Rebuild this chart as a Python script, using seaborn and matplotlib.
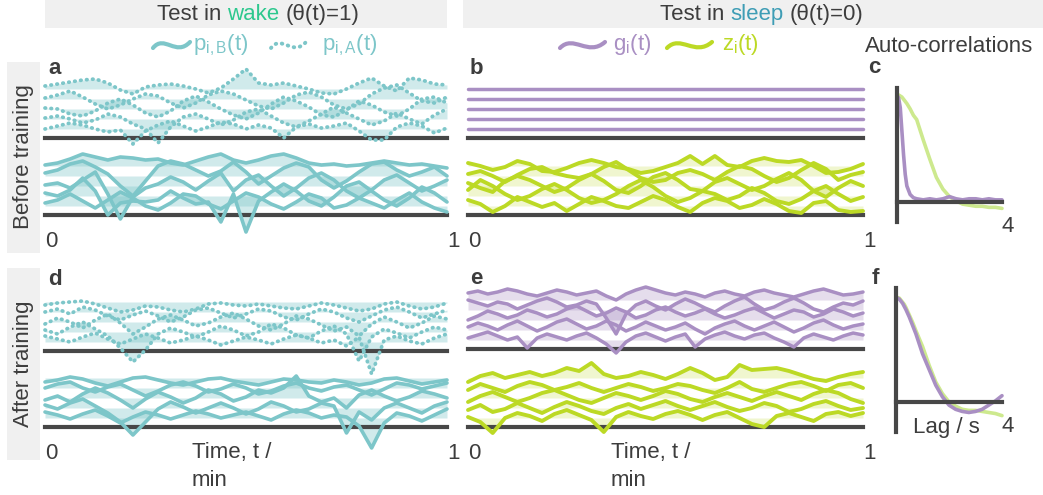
import numpy as np
import matplotlib
matplotlib.use("Agg")
import matplotlib.pyplot as plt
import seaborn as sns
from matplotlib.patches import Rectangle, PathPatch
from matplotlib.path import Path

sns.set_theme(style="white")
plt.rcParams["font.family"] = ["Liberation Sans", "DejaVu Sans"]
plt.rcParams["mathtext.fontset"] = "custom"
plt.rcParams["mathtext.rm"] = "Liberation Sans"
plt.rcParams["mathtext.it"] = "Liberation Sans"
plt.rcParams["mathtext.default"] = "regular"

# ---------------- data (offset trace levels, lowest baseline = 0) ----------------
pA_before = [
    [0.0,0.3,0.6,0.4,0.0,-0.3,-0.1,-1.5,-0.2,0.4,0.8,0.3,-0.2,0.2,0.7,0.5,0.0,0.4,0.1,-0.9,0.2,0.5,0.1,0.3,0.6,-0.2,-1.1,-1.1,0.2,0.6,0.3,-0.4,0.1],
    [1.1,1.3,1.0,0.6,0.9,1.5,1.2,0.5,0.0,-1.4,0.2,1.2,1.5,1.0,0.4,0.9,1.7,2.0,1.3,0.6,0.2,0.8,1.5,2.2,1.6,1.0,0.4,0.8,1.6,1.0,0.5,1.4,2.0],
    [2.1,2.0,1.5,1.3,1.8,2.6,3.0,2.4,1.6,1.2,1.8,2.8,3.3,2.7,2.0,1.4,1.0,1.6,2.5,3.2,2.8,2.2,1.4,1.2,1.9,2.8,2.4,1.7,1.3,2.0,3.0,3.2,2.6],
    [3.1,3.4,3.8,3.2,2.5,2.0,2.4,3.0,3.5,3.3,2.6,2.1,2.6,3.4,3.8,3.5,2.9,2.3,2.0,2.6,3.4,3.7,3.2,2.4,2.0,2.5,3.5,4.1,4.4,3.6,2.8,2.6,3.2],
    [4.3,4.5,4.7,4.9,5.0,4.6,3.9,3.5,4.2,4.4,4.5,4.3,4.0,3.6,4.1,5.0,6.0,4.6,4.4,4.6,4.3,4.0,3.6,3.5,4.0,4.6,5.1,4.3,3.8,5.1,4.9,4.5,4.4],
]
pB_before = [
    [0.3,0.6,1.2,0.5,-0.2,0.6,1.4,0.8,0.0,-0.4,0.3,1.2,1.0,0.2,-0.3,0.5,1.3,0.9,0.2,-0.3,0.4,1.2,0.8,-0.2,0.1,0.8,0.3,-0.2,0.6,1.3,0.4,-0.2,-0.6],
    [1.3,1.0,1.6,2.8,1.5,-0.9,0.3,0.5,0.4,0.6,1.5,0.8,0.2,0.4,-1.6,1.2,-2.6,0.5,1.4,2.2,1.5,0.5,0.0,0.9,2.0,2.4,1.5,0.6,0.0,0.8,1.9,1.3,0.4],
    [2.1,2.3,1.8,2.6,3.4,1.2,-1.3,0.9,1.8,2.2,2.9,2.4,1.6,2.5,3.3,1.5,2.6,3.1,2.0,1.0,1.8,2.8,3.3,2.6,1.5,0.8,1.6,2.6,3.1,2.3,1.5,2.0,2.6],
    [3.3,3.6,4.2,4.5,3.9,3.2,2.0,1.0,2.5,4.0,4.5,4.2,3.6,3.0,3.5,4.4,3.4,2.2,3.0,3.8,4.3,3.9,2.6,1.8,2.5,3.4,4.2,4.4,3.6,3.0,3.4,3.9,3.0],
    [4.1,4.3,4.7,5.2,4.9,4.6,4.9,4.8,4.6,4.7,4.3,4.1,4.5,4.9,5.2,4.6,4.3,4.6,5.0,5.2,4.8,4.3,4.1,4.2,4.0,4.1,4.3,4.5,4.3,4.1,4.2,4.0,3.8],
]
g_before = [[0.0,0.0],[1.0,1.0],[2.0,2.0],[3.0,3.0],[4.0,4.0]]
z_before = [
    [0.6,0.2,-0.6,0.0,0.9,0.4,-0.1,0.3,-0.5,0.2,0.9,0.5,0.0,-0.2,0.4,1.0,0.6,-0.1,-0.6,0.3,0.8,0.5,-0.2,0.1,0.7,0.2,-0.5,-0.7,0.3,0.5,-0.4,-0.6,-0.5],
    [1.6,2.6,2.0,1.2,0.6,1.0,1.7,2.2,1.6,0.8,0.3,0.6,1.2,2.0,2.6,1.9,1.0,0.4,0.8,1.5,1.2,0.6,1.0,1.8,1.3,0.5,0.2,0.7,1.5,2.0,1.2,0.5,0.9],
    [2.3,1.8,1.4,2.5,3.0,2.6,2.0,1.4,1.8,2.6,3.2,2.5,1.6,1.3,2.0,2.9,3.3,2.6,1.7,1.5,2.4,2.8,2.2,1.6,2.0,2.7,3.3,2.6,1.5,0.9,1.8,2.5,2.0],
    [3.2,3.5,3.0,2.4,3.1,3.7,3.9,3.3,3.0,2.8,3.2,3.9,4.4,3.6,2.8,2.4,2.6,3.3,3.6,3.2,2.6,3.4,4.0,3.7,3.0,2.4,2.8,3.6,4.3,3.7,2.6,3.1,3.4],
    [4.3,4.0,3.6,3.9,4.5,4.2,3.5,3.4,3.8,4.3,4.6,4.3,3.9,3.7,3.3,3.5,3.9,4.3,5.0,4.2,5.0,4.1,3.9,4.5,4.8,4.5,4.4,4.6,4.0,3.3,3.4,3.7,4.2],
]
pA_after = [
    [0.6,0.3,0.0,0.5,0.9,0.3,-0.2,0.3,0.8,0.4,-0.1,0.2,0.6,0.2,-0.3,0.1,0.5,0.2,-0.2,0.3,0.7,0.4,-0.1,0.2,-0.4,0.5,-3.2,0.2,0.6,0.1,-0.2,0.4,0.8],
    [1.2,0.8,1.5,2.0,1.3,0.6,-0.6,-2.0,-0.8,0.8,1.4,1.0,0.5,1.0,1.6,1.2,0.6,1.0,1.8,1.4,0.7,0.4,1.1,1.6,0.8,-1.9,0.5,1.3,0.9,0.4,1.0,1.5,1.2],
    [1.8,2.4,2.0,1.4,2.2,2.8,1.9,0.8,1.5,2.3,2.7,2.2,1.6,1.9,2.5,2.9,2.3,1.6,1.2,1.8,2.6,2.3,1.7,1.1,1.5,0.6,1.8,2.5,2.0,1.4,1.9,2.6,2.3],
    [3.0,3.3,2.8,3.5,3.2,2.6,2.2,2.7,3.1,2.6,2.0,2.5,3.2,3.4,2.9,2.4,2.8,3.3,3.1,2.5,2.2,2.8,3.3,3.0,2.4,2.0,2.6,3.2,3.5,3.0,2.4,2.8,3.2],
    [3.7,3.9,4.0,4.1,3.8,3.4,3.0,3.2,3.6,3.5,3.2,3.0,3.3,3.8,3.9,3.7,3.6,3.8,3.6,3.4,3.3,3.6,3.9,3.7,3.4,3.1,3.3,3.8,4.0,3.6,3.3,3.5,3.9],
]
pB_after = [
    [0.6,0.3,-0.1,0.4,0.8,0.2,-0.5,0.1,0.6,0.3,-0.1,0.3,0.7,0.4,0.0,0.3,0.6,0.2,-0.2,0.4,0.8,0.5,0.0,0.3,0.1,-0.8,-3.0,-0.5,0.5,0.2,-0.3,0.3,0.9],
    [1.3,0.9,1.5,1.9,1.2,0.5,-0.4,-1.7,-0.4,0.9,1.6,1.1,0.5,1.0,1.5,1.0,0.4,0.9,1.6,1.2,0.6,0.9,1.5,1.2,-1.5,0.6,-0.2,1.0,1.5,1.0,0.5,1.2,1.6],
    [1.8,2.2,1.6,2.4,3.0,2.5,1.8,1.0,1.9,2.6,2.1,1.5,2.0,2.8,2.4,1.7,2.1,2.8,2.5,3.0,4.2,2.2,1.6,2.0,1.0,2.3,2.8,2.2,1.7,2.1,2.7,2.4,2.0],
    [3.0,3.4,3.6,3.0,2.6,3.1,3.4,2.8,2.2,2.7,3.3,3.6,3.2,2.6,2.9,3.4,3.0,2.4,2.7,3.2,3.5,3.0,2.7,3.1,3.3,2.8,2.3,2.9,3.5,3.3,2.9,3.2,3.5],
    [3.6,3.8,4.1,3.9,3.5,3.2,3.6,4.0,4.1,3.8,3.5,3.3,3.6,3.9,4.0,3.7,3.5,3.3,3.6,3.9,3.8,3.6,3.5,3.8,3.6,3.3,3.5,3.9,4.0,3.7,3.4,3.6,3.8],
]
g_after = [
    [0.2,0.5,0.8,0.4,0.0,0.3,-0.8,0.2,0.6,0.3,0.0,0.4,0.7,0.2,-0.4,-1.3,-0.2,0.4,0.7,0.3,-0.1,0.3,0.6,-0.7,0.1,0.5,0.8,0.4,0.1,0.5,0.7,0.2,-0.2,-0.7,0.2,0.6,0.3,0.0,0.4,0.7,0.5],
    [1.3,1.7,1.4,1.0,1.5,1.9,1.4,0.9,1.3,1.8,2.1,1.6,1.1,1.4,1.9,1.5,0.9,1.3,1.8,1.4,1.0,1.3,1.7,1.1,0.6,1.2,1.6,1.9,1.4,1.0,1.4,1.8,1.3,0.8,1.2,1.7,2.0,1.5,1.1,1.4,1.6],
    [2.0,2.4,2.9,2.6,2.2,2.5,3.0,2.7,2.3,2.6,3.1,3.4,2.9,2.4,2.7,3.2,2.8,2.2,2.5,3.0,3.3,2.8,2.4,2.7,3.1,2.6,2.2,2.5,2.9,3.2,2.7,2.2,2.6,3.0,2.8,2.3,2.6,3.1,2.8,2.4,2.7],
    [4.0,3.7,3.4,3.8,3.6,3.1,3.5,3.9,4.2,3.8,3.3,3.5,3.9,3.6,2.2,0.6,2.6,3.5,3.9,3.4,3.0,3.6,4.1,3.7,3.2,2.8,3.4,3.9,4.3,3.6,3.0,3.3,3.8,4.2,3.7,3.1,2.8,3.3,3.7,3.5,3.9],
    [4.7,4.9,4.6,4.8,5.1,4.9,4.6,4.4,4.7,5.0,4.8,4.5,4.7,4.9,4.4,4.0,4.6,5.0,5.3,5.0,4.7,4.5,4.8,4.6,4.3,4.7,4.9,4.6,4.4,4.8,5.0,4.7,4.5,4.3,4.6,4.9,5.1,4.8,4.5,4.6,4.8],
]
z_after = [
    [0.1,-0.4,-1.5,0.0,0.5,0.2,-0.3,0.4,0.8,0.3,-0.2,-1.4,0.1,0.6,0.2,-0.1,0.4,0.7,0.3,-0.2,0.3,0.6,0.0,-0.6,-0.9,0.2,0.5,0.1,-0.3,0.4,0.6,0.2,0.5],
    [0.8,1.3,0.6,0.9,1.5,1.0,0.5,1.1,1.6,1.2,0.7,0.4,1.0,1.4,0.9,1.3,1.7,1.2,0.8,1.2,1.6,1.1,0.7,1.0,1.5,1.2,0.6,0.9,1.4,1.7,1.2,0.8,1.0],
    [1.6,2.2,2.6,2.1,1.6,2.0,2.5,2.8,2.3,1.8,1.5,2.0,2.5,2.2,1.8,2.2,2.7,2.4,1.9,1.6,2.1,2.5,2.1,1.7,2.2,2.6,2.2,1.8,2.4,2.8,2.5,1.9,1.5],
    [2.8,3.4,3.0,2.6,3.2,3.6,3.3,2.8,3.1,3.5,3.0,2.6,3.0,3.4,3.1,2.7,3.0,3.4,3.2,2.8,2.5,3.0,3.6,2.9,2.6,3.0,3.4,3.6,3.2,2.7,3.3,3.5,3.0],
    [3.6,4.2,4.5,4.0,4.3,4.6,4.2,4.5,5.0,4.7,5.5,4.4,4.0,4.2,4.6,4.3,3.9,4.4,5.0,4.5,3.8,4.1,5.3,4.8,4.9,5.0,4.7,4.3,3.9,3.7,4.1,4.4,4.6],
]

lag_s = [0,0.0625,0.125,0.1875,0.25,0.3125,0.375,0.5,0.625,0.75,1.0,1.25,1.5,1.75,2.0,2.25,2.5,2.75,3.0,3.25,3.5,3.75,4.0]
acf_g_before = [1.0,0.97,0.88,0.66,0.44,0.26,0.15,0.07,0.04,0.03,0.02,0.03,0.02,0.03,0.05,0.03,0.02,0.03,0.03,0.02,0.03,0.02,0.02]
acf_z_before = [1.0,1.0,0.99,0.98,0.96,0.94,0.92,0.87,0.81,0.77,0.58,0.40,0.23,0.12,0.05,0.01,-0.02,-0.03,-0.04,-0.04,-0.05,-0.05,-0.06]
acf_g_after = [1.0,0.99,0.98,0.96,0.94,0.91,0.88,0.81,0.73,0.65,0.46,0.31,0.16,0.05,-0.03,-0.07,-0.09,-0.10,-0.09,-0.07,-0.03,0.01,0.06]
acf_z_after = [1.0,0.995,0.99,0.97,0.95,0.93,0.90,0.83,0.76,0.68,0.53,0.35,0.19,0.08,0.0,-0.04,-0.07,-0.08,-0.08,-0.09,-0.10,-0.11,-0.13]

time_ticks = [0, 1]
time_ticklabels = ["0", "1"]
lag_ticks = [4]
lag_ticklabels = ["4"]

# ---------------- styling ----------------
TEAL = "#7DC6C9"
PURPLE = "#A98FC3"
GREEN = "#BCD925"
GREEN_LIGHT = "#CDE98E"
WAKE = "#2DC88E"
SLEEP = "#3E9DB5"
DARK = "#3d3d3d"
SPINE = "#474747"
BAND = "#F0F0F0"
FS = 16
SPW = 3.0

W, H = 1043, 495
fig = plt.figure(figsize=(W / 100, H / 100), dpi=100)
renderer = fig.canvas.get_renderer()


def P(x, y):
    return (x / W, 1 - y / H)


UNIT = 10.0
LO, HI = -0.9, 6.6


def trace_ax(left, right, spine_y, labels):
    h = (HI - LO) * UNIT
    ax = fig.add_axes([left / W, 1 - spine_y / H, (right - left) / W, h / H])
    ax.set_xlim(0, 1)
    ax.set_ylim(LO, HI)
    ax.patch.set_alpha(0)
    for s in ["top", "right", "left"]:
        ax.spines[s].set_visible(False)
    ax.spines["bottom"].set_color(SPINE)
    ax.spines["bottom"].set_linewidth(SPW)
    ax.set_yticks([])
    ax.set_xticks(time_ticks)
    ax.tick_params(axis="x", direction="out", length=6, width=SPW, color=SPINE,
                   labelsize=FS, labelcolor=DARK, pad=5.5, labelbottom=labels)
    ax.set_xticklabels(time_ticklabels if labels else ["", ""])
    for lb in ax.get_xticklabels():
        lb.set_ha("left")
    ax.grid(False)
    return ax


def draw_traces(ax, traces, color, ls, lw, fill_alpha):
    for i, y in enumerate(traces):
        t = np.linspace(0, 1, len(y))
        ax.fill_between(t, i, y, color=color, alpha=fill_alpha, lw=0, clip_on=False, zorder=1)
    for i, y in enumerate(traces):
        t = np.linspace(0, 1, len(y))
        sns.lineplot(x=t, y=y, ax=ax, color=color, lw=lw, linestyle=ls, clip_on=False,
                     zorder=3, estimator=None, sort=False, legend=False,
                     dash_capstyle="round", solid_capstyle="round", solid_joinstyle="round")
    ax.set_xlim(0, 1)
    ax.set_ylim(LO, HI)
    ax.set_xlabel("")
    ax.set_ylabel("")


DOT = (0, (0.15, 1.45))

# header bands
fig.add_artist(Rectangle(P(45, 28), 402 / W, 28 / H, transform=fig.transFigure, color=BAND, lw=0, zorder=0))
fig.add_artist(Rectangle(P(463, 28), (W - 463) / W, 28 / H, transform=fig.transFigure, color=BAND, lw=0, zorder=0))
fig.add_artist(Rectangle(P(7, 253), 33 / W, (253 - 62) / H, transform=fig.transFigure, color=BAND, lw=0, zorder=0))
fig.add_artist(Rectangle(P(7, 460), 33 / W, (460 - 268) / H, transform=fig.transFigure, color=BAND, lw=0, zorder=0))


def colored_line(cx, base_y, parts, size):
    sp = size * 1.389 * 0.278
    texts, widths = [], []
    for s, c in parts:
        tx = fig.text(0, 0, s, fontsize=size, color=c, va="baseline", ha="left")
        widths.append(tx.get_window_extent(renderer).width)
        texts.append(tx)
    total = sum(widths) + sp * (len(parts) - 1)
    x = cx - total / 2
    for tx, w in zip(texts, widths):
        tx.set_position(P(x, base_y))
        x += w + sp


colored_line(258, 20, [("Test in", DARK), ("wake", WAKE), ("(θ(t)=1)", DARK)], FS)
colored_line(762, 20, [("Test in", DARK), ("sleep", SLEEP), ("(θ(t)=0)", DARK)], FS)

fig.text(*P(24, 157), "Before training", rotation=90, fontsize=FS, color=DARK, ha="center", va="center")
fig.text(*P(24, 364), "After training", rotation=90, fontsize=FS, color=DARK, ha="center", va="center")


def wave(x0, x1, yc, color, ls="-"):
    w = x1 - x0
    pts = [(x0, yc + 3), (x0 + 0.3 * w, yc - 11), (x0 + 0.62 * w, yc + 12), (x1, yc - 3)]
    path = Path([P(*p) for p in pts], [Path.MOVETO, Path.CURVE4, Path.CURVE4, Path.CURVE4])
    fig.add_artist(PathPatch(path, transform=fig.transFigure, fill=False, edgecolor=color,
                             lw=3 if ls == "-" else 2.8, linestyle=ls, capstyle="round"))


wave(153, 190, 45, TEAL)
fig.text(*P(193, 50), r"p$_{i,B}$(t)", fontsize=FS, color=TEAL, va="baseline")
wave(271, 306, 45, TEAL, DOT)
fig.text(*P(322, 50), r"p$_{i,A}$(t)", fontsize=FS, color=TEAL, va="baseline")
wave(560, 605, 45, PURPLE)
fig.text(*P(613, 50), r"g$_i$(t)", fontsize=FS, color=PURPLE, va="baseline")
wave(667, 712, 45, GREEN)
fig.text(*P(722, 50), r"z$_i$(t)", fontsize=FS, color=GREEN, va="baseline")
fig.text(*P(865, 52), "Auto-correlations", fontsize=FS, color=DARK, va="baseline")

for letter, x, y in [("a", 48, 74), ("b", 470, 74), ("c", 868, 73), ("d", 48, 285), ("e", 470, 284), ("f", 872, 284)]:
    fig.text(*P(x, y), letter, fontsize=FS, fontweight="bold", color=DARK, va="baseline")

# trace panels
ax_a1 = trace_ax(45, 447, 138, False)
draw_traces(ax_a1, pA_before, TEAL, DOT, 2.7, 0.36)
ax_a2 = trace_ax(45, 447, 215, True)
draw_traces(ax_a2, pB_before, TEAL, "-", 2.6, 0.36)
ax_b1 = trace_ax(468, 863, 138, False)
draw_traces(ax_b1, g_before, PURPLE, "-", 2.5, 0.3)
ax_b2 = trace_ax(468, 863, 215, True)
draw_traces(ax_b2, z_before, GREEN, "-", 2.8, 0.22)
ax_d1 = trace_ax(45, 447, 351, False)
draw_traces(ax_d1, pA_after, TEAL, DOT, 2.7, 0.36)
ax_d2 = trace_ax(45, 447, 427, True)
draw_traces(ax_d2, pB_after, TEAL, "-", 2.6, 0.36)
ax_e1 = trace_ax(468, 863, 349, False)
draw_traces(ax_e1, g_after, PURPLE, "-", 2.5, 0.3)
ax_e2 = trace_ax(468, 863, 427, True)
draw_traces(ax_e2, z_after, GREEN, "-", 2.8, 0.22)

for cx in (246, 665):
    fig.text(*P(cx - 54, 458), "Time, t /", fontsize=FS, color=DARK, va="baseline")
    fig.text(*P(cx - 54, 486), "min", fontsize=FS, color=DARK, va="baseline")


# autocorrelation panels
def acf_ax(left, right, top, bottom):
    ax = fig.add_axes([left / W, 1 - bottom / H, (right - left) / W, (bottom - top) / H])
    ax.patch.set_alpha(0)
    for s in ["top", "right"]:
        ax.spines[s].set_visible(False)
    for s in ["left", "bottom"]:
        ax.spines[s].set_color(SPINE)
        ax.spines[s].set_linewidth(SPW)
    ax.spines["bottom"].set_position(("data", 0))
    ax.set_yticks([])
    ax.grid(False)
    return ax


def finish_acf(ax, ylo, yhi):
    ax.set_xlim(0, 4)
    ax.set_ylim(ylo, yhi)
    ax.set_xticks(lag_ticks)
    ax.set_xticklabels(lag_ticklabels)
    ax.tick_params(axis="x", direction="out", length=6, width=SPW, color=SPINE,
                   labelsize=FS, labelcolor=DARK, pad=4)
    for lb in ax.get_xticklabels():
        lb.set_ha("left")
    ax.set_xlabel("")
    ax.set_ylabel("")


ax_c = acf_ax(897, 1002, 88, 222)
sns.lineplot(x=lag_s, y=acf_z_before, ax=ax_c, color=GREEN_LIGHT, lw=2.6, estimator=None, legend=False, clip_on=False)
sns.lineplot(x=lag_s, y=acf_g_before, ax=ax_c, color=PURPLE, lw=2.6, estimator=None, legend=False, clip_on=False)
finish_acf(ax_c, -0.187, 1.065)

ax_f = acf_ax(896, 1002, 288, 432)
sns.lineplot(x=lag_s, y=acf_z_after, ax=ax_f, color=GREEN_LIGHT, lw=2.6, estimator=None, legend=False, clip_on=False)
sns.lineplot(x=lag_s, y=acf_g_after, ax=ax_f, color=PURPLE, lw=2.6, estimator=None, legend=False, clip_on=False)
finish_acf(ax_f, -0.286, 1.086)
fig.text(*P(913, 433), "Lag / s", fontsize=FS, color=DARK, va="baseline")

fig.savefig("out.png", dpi=100)
